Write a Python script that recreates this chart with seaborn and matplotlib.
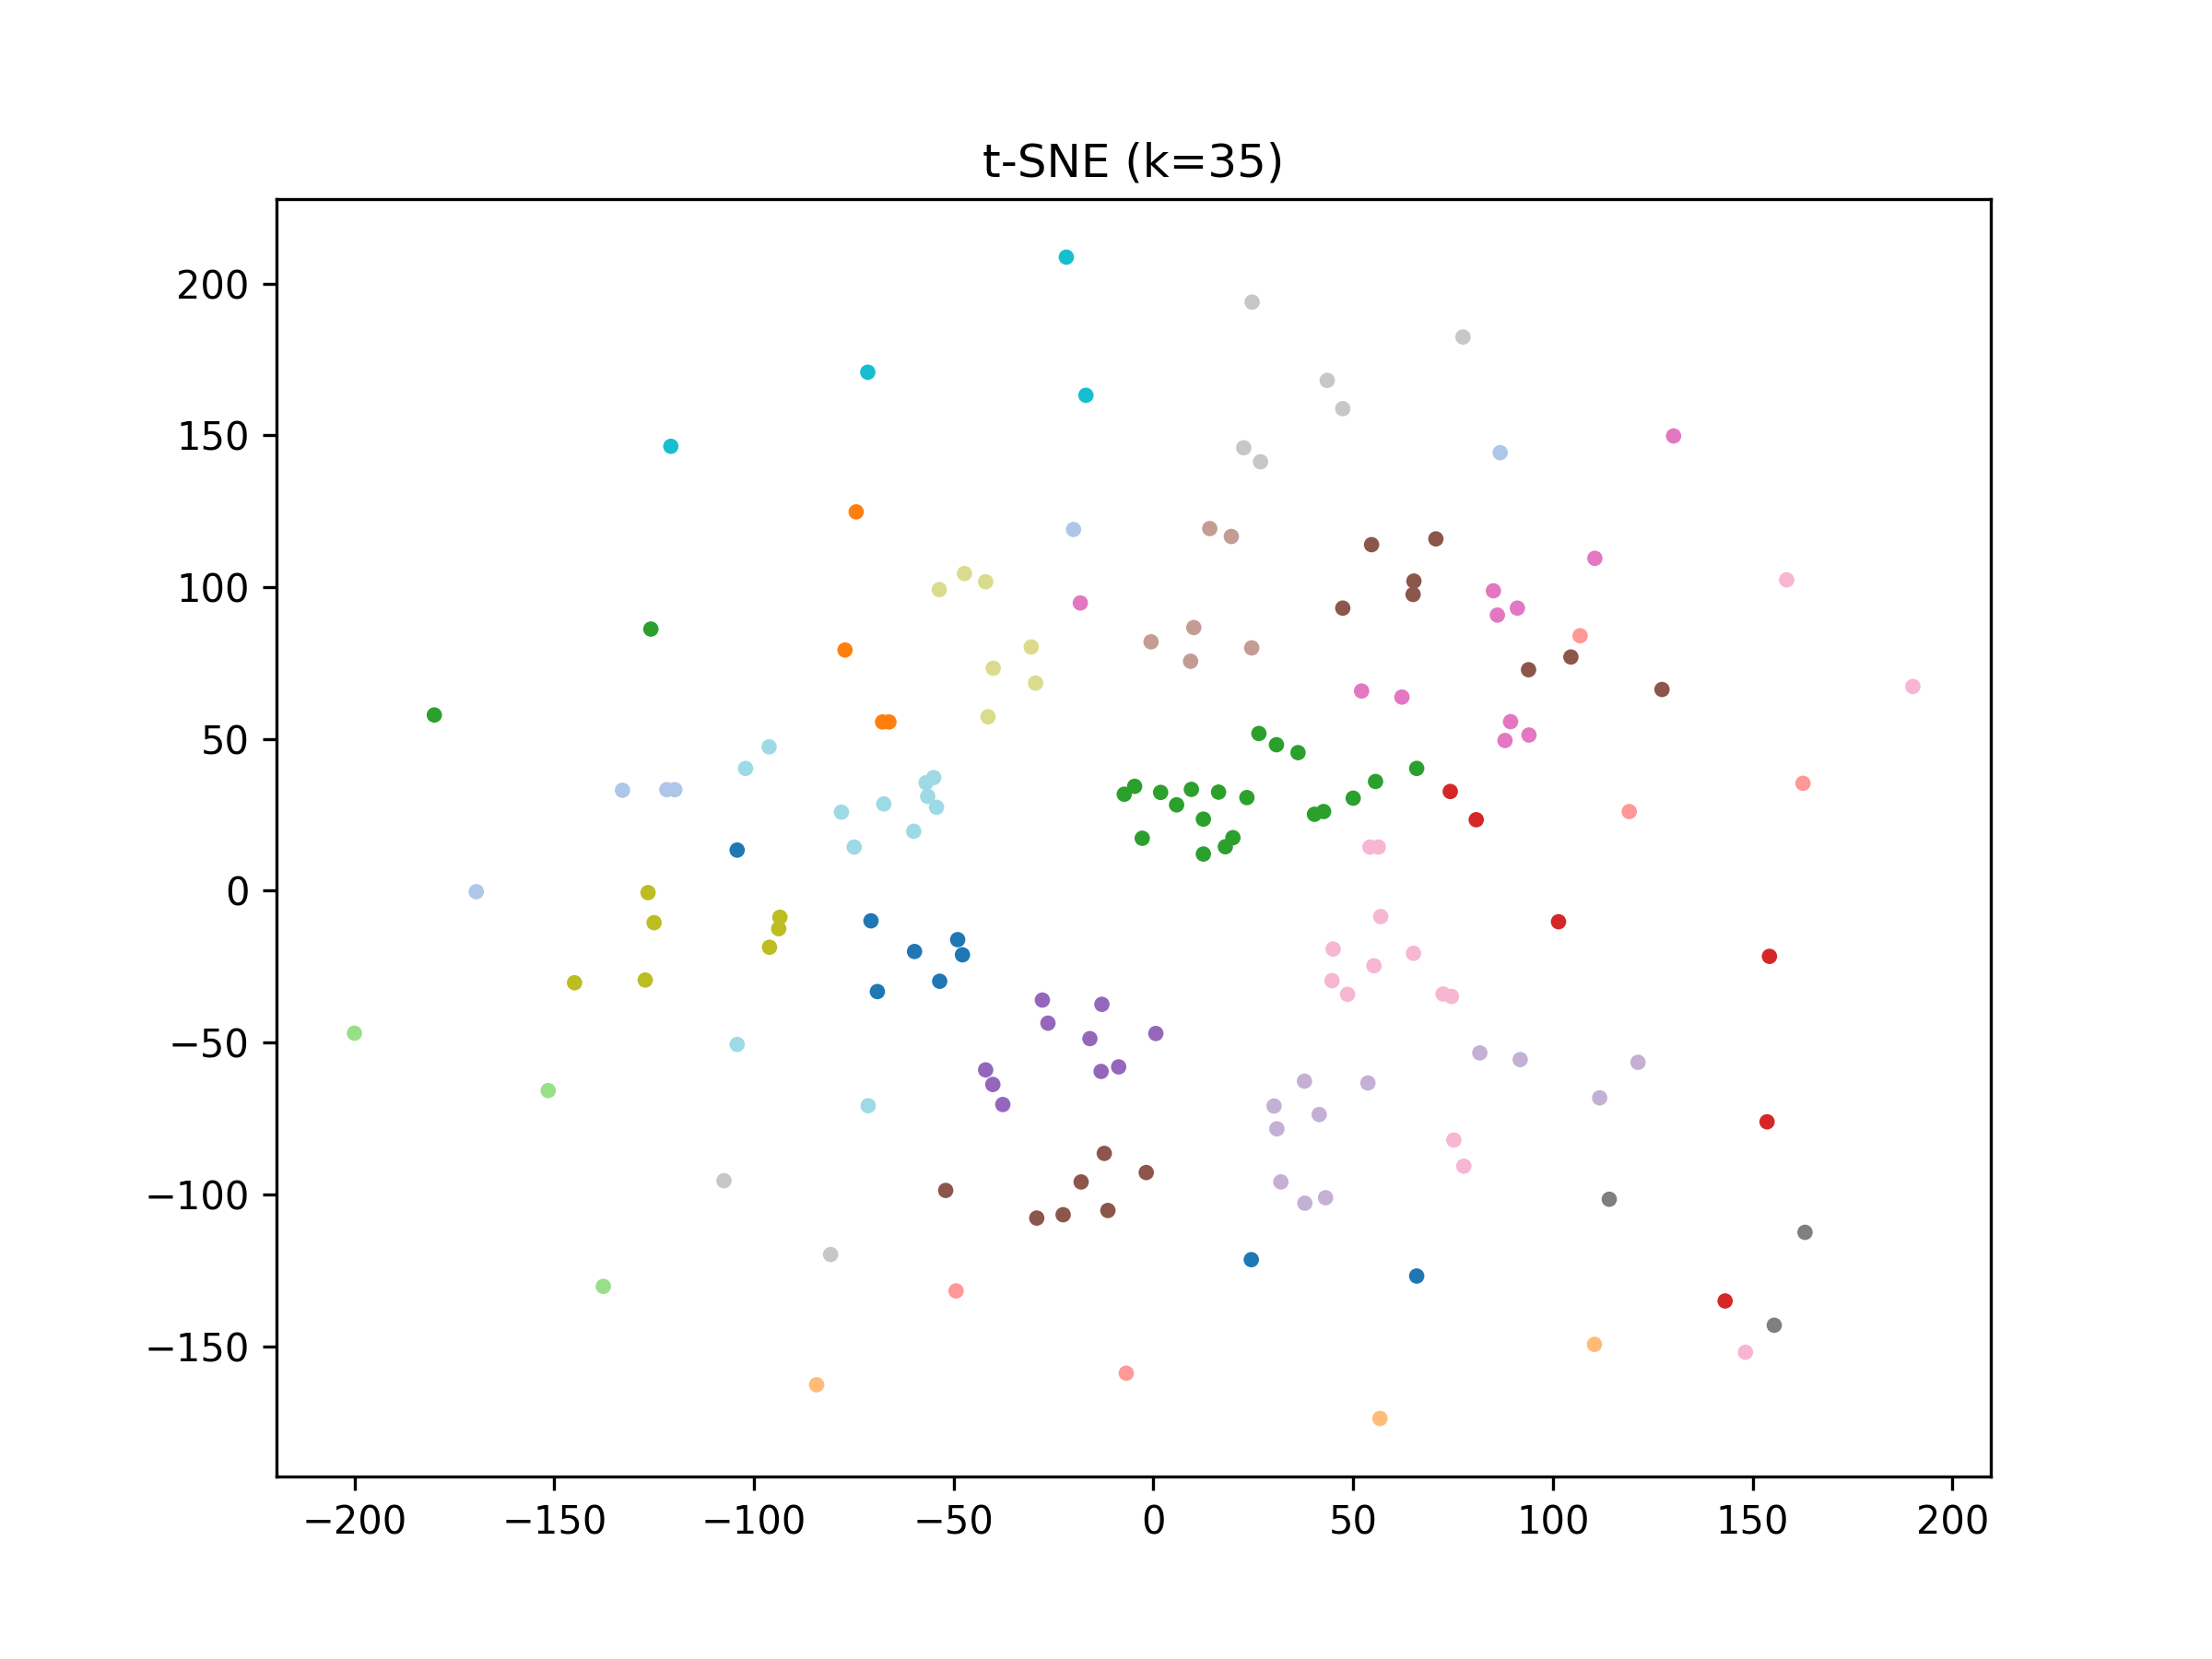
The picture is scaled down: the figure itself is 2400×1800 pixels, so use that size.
import pandas as pd
import seaborn as sns
import matplotlib
matplotlib.use('Agg')
import matplotlib.pyplot as plt

# t-SNE embedding points, one list per cluster (tab20 order)
blue = [(-104.2, 13.4), (-70.7, -9.9), (-49.0, -16.1), (-59.8, -20.0), (-47.8, -21.1),
        (-53.5, -29.8), (-69.1, -33.2), (24.5, -121.5), (65.9, -126.9)]
light_blue = [(-132.9, 33.1), (-121.8, 33.3), (-119.8, 33.3), (-169.5, -0.3),
              (-20.0, 119.0), (86.8, 144.3)]
orange = [(-74.4, 124.8), (-77.2, 79.3), (-67.8, 55.6), (-66.2, 55.6)]
light_orange = [(-84.3, -162.7), (56.7, -173.8), (110.4, -149.4)]
green = [(-180.0, 57.9), (-125.8, 86.2), (26.4, 51.8), (30.8, 48.1), (36.2, 45.5),
         (65.9, 40.3), (55.6, 36.0), (50.0, 30.5), (40.3, 25.2), (42.6, 26.1),
         (-7.3, 31.8), (-4.7, 34.4), (1.8, 32.4), (9.5, 33.4), (16.3, 32.5),
         (23.4, 30.7), (5.8, 28.3), (12.5, 23.6), (-2.8, 17.3), (19.9, 17.5),
         (18.0, 14.5), (12.5, 12.1)]
light_green = [(-200.0, -46.9), (-151.5, -65.8), (-137.7, -130.3)]
red = [(74.3, 32.7), (80.8, 23.4), (101.4, -10.2), (154.2, -21.6), (153.6, -76.1),
       (143.1, -135.1)]
light_red = [(106.8, 84.0), (162.6, 35.4), (119.1, 26.1), (-49.4, -131.8), (-6.8, -158.9)]
purple = [(-27.8, -36.0), (-12.9, -37.4), (-26.4, -43.6), (-15.9, -48.7), (0.6, -47.0),
          (-42.0, -59.0), (-40.2, -63.8), (-37.7, -70.4), (-13.1, -59.5), (-8.7, -58.0)]
light_purple = [(37.8, -62.7), (53.7, -63.3), (30.2, -70.9), (41.5, -73.7), (30.9, -78.4),
                (31.9, -95.9), (43.1, -101.1), (37.9, -102.9), (81.7, -53.4),
                (91.8, -55.6), (121.3, -56.5), (111.7, -68.2)]
brown = [(54.6, 114.0), (70.7, 115.9), (65.2, 102.0), (65.0, 97.6), (47.4, 93.1),
         (104.5, 77.0), (93.9, 72.8), (127.3, 66.3), (-12.3, -86.5), (-1.8, -92.8),
         (-18.1, -95.9), (-52.0, -98.7), (-11.4, -105.3), (-22.6, -106.7), (-29.2, -107.8)]
light_brown = [(14.1, 119.3), (19.5, 116.7), (10.1, 86.7), (-0.6, 82.0), (24.6, 80.0),
               (9.3, 75.6)]
pink = [(-18.3, 94.8), (130.2, 149.8), (110.5, 109.5), (85.1, 98.8), (91.1, 93.1),
        (86.1, 90.8), (52.1, 65.8), (62.2, 63.8), (89.4, 55.7), (94.0, 51.3), (88.0, 49.5)]
light_pink = [(158.5, 102.4), (190.1, 67.3), (54.2, 14.4), (56.3, 14.4), (56.9, -8.5),
              (45.0, -19.2), (65.1, -20.6), (55.2, -24.7), (44.7, -29.6), (48.6, -34.1),
              (72.5, -34.0), (74.6, -34.8), (75.2, -82.1), (77.7, -90.7), (148.2, -152.0)]
gray = [(114.1, -101.6), (163.1, -112.5), (155.4, -143.1)]
light_gray = [(24.7, 193.9), (77.5, 182.4), (43.5, 168.1), (47.4, 158.8), (22.6, 145.9),
              (26.8, 141.3), (-107.5, -95.5), (-80.8, -119.8)]
olive = [(-126.5, -0.6), (-125.0, -10.5), (-93.5, -8.7), (-93.8, -12.5), (-96.1, -18.6),
         (-127.2, -29.4), (-144.9, -30.3)]
light_olive = [(-47.3, 104.5), (-42.0, 101.8), (-53.6, 99.2), (-30.6, 80.3), (-40.1, 73.3),
               (-29.5, 68.4), (-41.4, 57.3)]
cyan = [(-21.8, 208.7), (-71.5, 170.8), (-16.9, 163.2), (-120.8, 146.4)]
light_cyan = [(-96.2, 47.4), (-102.1, 40.3), (-78.1, 25.9), (-74.9, 14.4), (-55.0, 37.3),
              (-56.9, 35.6), (-56.5, 31.1), (-67.5, 28.6), (-54.3, 27.5), (-60.0, 19.6),
              (-104.2, -50.6), (-71.4, -70.8)]

clusters = [blue, light_blue, orange, light_orange, green, light_green, red, light_red,
            purple, light_purple, brown, light_brown, pink, light_pink, gray, light_gray,
            olive, light_olive, cyan, light_cyan]

rows = []
for k, pts in enumerate(clusters):
    for px, py in pts:
        rows.append({'x': px, 'y': py, 'label': k})
df = pd.DataFrame(rows)

plt.figure(figsize=(8, 6), dpi=300)
ax = sns.scatterplot(x='x', y='y', hue='label', data=df,
                     palette=sns.color_palette('tab20', 20),
                     s=16, linewidth=0, legend=False)
ax.set(xlabel='', ylabel='')
plt.title("t-SNE (k=35)")
plt.savefig("out.png", dpi=300)
